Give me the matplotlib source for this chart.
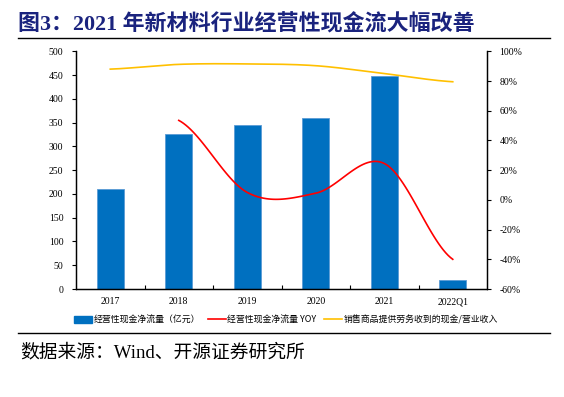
import numpy as np
import matplotlib.pyplot as plt
from matplotlib.lines import Line2D
from matplotlib.patches import Patch

plt.rcParams['font.family'] = ['Liberation Serif', 'Noto Sans CJK SC']

categories = ['2017', '2018', '2019', '2020', '2021', '2022Q1']
cash_flow = [211, 325, 345, 360, 448, 20]          # 亿元
yoy = [None, 53.5, 5.0, 4.5, 24.5, -40.0]           # %
cash_ratio = [88.0, 91.2, 91.5, 90.3, 85.0, 79.5]   # %

title = '图3：2021 年新材料行业经营性现金流大幅改善'
source = '数据来源：Wind、开源证券研究所'
legend_labels = ['经营性现金净流量（亿元）', '经营性现金净流量 YOY', '销售商品提供劳务收到的现金/营业收入']

BLUE = '#0070C0'
RED = '#FF0000'
GOLD = '#FFC000'


def smooth(xs, ys, n=30):
    # excel-like smoothed line (catmull-rom through the points)
    xs = np.asarray(xs, float)
    ys = np.asarray(ys, float)
    px = np.concatenate([[2 * xs[0] - xs[1]], xs, [2 * xs[-1] - xs[-2]]])
    py = np.concatenate([[ys[0]], ys, [ys[-1]]])
    outx, outy = [], []
    for i in range(1, len(px) - 2):
        t = np.linspace(0, 1, n)
        p0, p1, p2, p3 = px[i-1], px[i], px[i+1], px[i+2]
        q0, q1, q2, q3 = py[i-1], py[i], py[i+1], py[i+2]
        b0 = p1
        b1 = p1 + (p2 - p0) / 6
        b2 = p2 - (p3 - p1) / 6
        b3 = p2
        c0 = q1
        c1 = q1 + (q2 - q0) / 6
        c2 = q2 - (q3 - q1) / 6
        c3 = q2
        outx.append((1-t)**3*b0 + 3*(1-t)**2*t*b1 + 3*(1-t)*t**2*b2 + t**3*b3)
        outy.append((1-t)**3*c0 + 3*(1-t)**2*t*c1 + 3*(1-t)*t**2*c2 + t**3*c3)
    return np.concatenate(outx), np.concatenate(outy)


fig = plt.figure(figsize=(5.64, 3.97), dpi=100)
ax = fig.add_axes([0.1348, 0.272, 0.7287, 0.5988])
ax2 = ax.twinx()

x = np.arange(len(categories))
ax.bar(x, cash_flow, width=0.4, color=BLUE, edgecolor='#5B9BD5', linewidth=0.6, zorder=2)
ax.set_ylim(0, 500)
ax.set_yticks(np.arange(0, 501, 50))
ax.set_xlim(-0.5, len(categories) - 0.5)
ax.set_xticks(x)
ax.set_xticklabels(categories)
ax.set_xticks(np.arange(0.5, len(categories) - 0.5, 1), minor=True)
ax.tick_params(axis='x', which='major', length=0, labelsize=7, pad=6)
ax.tick_params(axis='x', which='minor', direction='in', length=3, width=0.8)
ax.tick_params(axis='y', direction='out', length=3, width=0.8, labelsize=7, pad=6)

yx, yy = smooth(x[1:], yoy[1:])
ax2.plot(yx, yy, color=RED, lw=1.2, zorder=3)
rx, ry = smooth(x, cash_ratio)
ax2.plot(rx, ry, color=GOLD, lw=1.2, zorder=3)
ax2.set_ylim(-60, 100)
ax2.set_yticks(np.arange(-60, 101, 20))
ax2.set_yticklabels([f'{v}%' for v in range(-60, 101, 20)])
ax2.tick_params(axis='y', direction='out', length=3, width=0.8, labelsize=7, pad=6)

for a in (ax, ax2):
    a.spines['top'].set_visible(False)
    for s in ('left', 'right', 'bottom'):
        a.spines[s].set_linewidth(0.9)

handles = [Patch(color=BLUE), Line2D([], [], color=RED, lw=1.2), Line2D([], [], color=GOLD, lw=1.2)]
fig.legend(handles, legend_labels, loc='center', bbox_to_anchor=(0.507, 0.194), ncol=3, frameon=False,
           handlelength=2.0, handletextpad=0.15, columnspacing=0.9, borderpad=0.2,
           prop={'family': ['Noto Sans CJK SC', 'Liberation Serif'], 'size': 6.4})

fig.text(0.032, 0.937, title, fontsize=15.8, fontweight='bold', color='#1A237E',
         family=['Liberation Serif', 'Noto Sans CJK SC'], va='center')
fig.add_artist(Line2D([0.032, 0.975], [0.904, 0.904], color='black', lw=1.0))
fig.add_artist(Line2D([0.032, 0.975], [0.161, 0.161], color='black', lw=1.0))
fig.text(0.035, 0.113, source, fontsize=13.5, color='black',
         family=['Liberation Serif', 'Noto Sans CJK SC'], va='center')

fig.savefig('out.png', dpi=100)
